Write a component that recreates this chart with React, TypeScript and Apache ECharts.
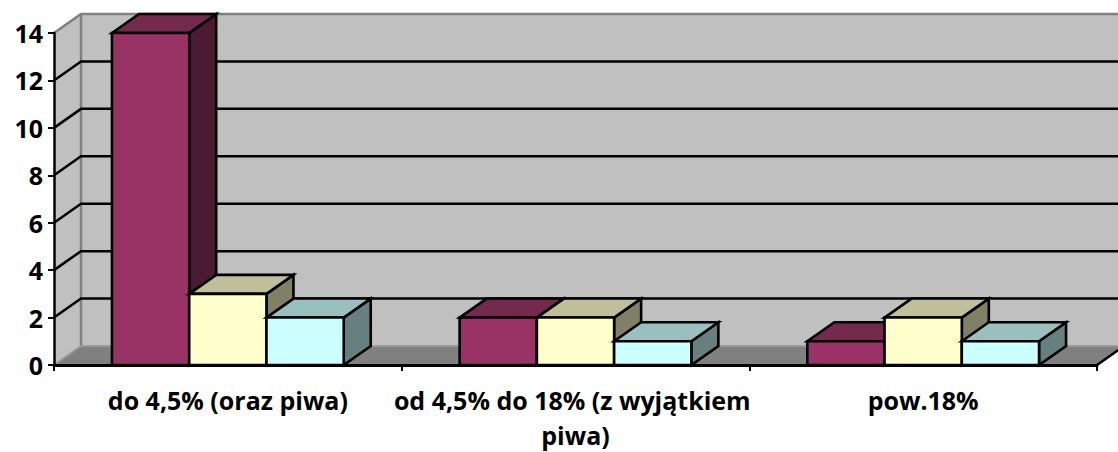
import React, { useEffect, useRef } from "react";
import * as echarts from "echarts";

const categories = ["do 4,5% (oraz piwa)", "od 4,5% do 18% (z wyjątkiem piwa)", "pow.18%"];
const plumValues = [14, 2, 1];
const creamValues = [3, 2, 2];
const aquaValues = [2, 1, 1];
const yTicks = [2, 4, 6, 8, 10, 12];

const plum = { front: "#993366", top: "#732A4D", side: "#4D1A33" };
const cream = { front: "#FFFFCC", top: "#BFBF99", side: "#808066" };
const aqua = { front: "#CCFFFF", top: "#99BFBF", side: "#668080" };

const DX = 27;
const DY = 19;
const BLACK = "#000000";
const BAR_SHARE = 0.2222;

const barRenderer = (slot: number, colors: { front: string; top: string; side: string }) =>
  (params: any, api: any) => {
    const cat = api.value(0);
    const val = api.value(1);
    const [cx, yTop] = api.coord([cat, val]);
    const [, yBase] = api.coord([cat, 0]);
    const band = api.size([1, 0])[0];
    const w = band * BAR_SHARE;
    const x0 = cx - 1.5 * w + slot * w;
    const x1 = x0 + w;
    const style = (fill: string) => ({ fill, stroke: BLACK, lineWidth: 2.6, lineJoin: "miter" });
    return {
      type: "group",
      children: [
        {
          type: "polygon",
          shape: { points: [[x1, yTop], [x1 + DX, yTop - DY], [x1 + DX, yBase - DY], [x1, yBase]] },
          style: style(colors.side),
        },
        {
          type: "polygon",
          shape: { points: [[x0, yTop], [x0 + DX, yTop - DY], [x1 + DX, yTop - DY], [x1, yTop]] },
          style: style(colors.top),
        },
        {
          type: "rect",
          shape: { x: x0, y: yTop, width: w, height: yBase - yTop },
          style: style(colors.front),
        },
      ],
    };
  };

const wallRenderer = (params: any, api: any) => {
  const cs = params.coordSys;
  const l = cs.x;
  const r = cs.x + cs.width;
  const top = cs.y;
  const bot = cs.y + cs.height;
  const rr = r + DX;
  return {
    type: "group",
    children: [
      {
        type: "polygon",
        shape: { points: [[l + DX, top - DY], [rr, top - DY], [rr, bot - DY], [l + DX, bot - DY]] },
        style: { fill: "#C0C0C0", stroke: "none" },
      },
      {
        type: "polygon",
        shape: { points: [[l, top], [l + DX, top - DY], [l + DX, bot - DY], [l, bot]] },
        style: { fill: "#C0C0C0", stroke: "none" },
      },
      {
        type: "polygon",
        shape: { points: [[l, bot], [l + DX, bot - DY], [rr, bot - DY], [r, bot]] },
        style: { fill: "#808080", stroke: "none" },
      },
      {
        type: "polyline",
        shape: { points: [[l, top], [l + DX, top - DY], [rr, top - DY]] },
        style: { fill: "none", stroke: "#808080", lineWidth: 2.5 },
      },
      {
        type: "line",
        shape: { x1: l + DX, y1: top - DY, x2: l + DX, y2: bot - DY },
        style: { stroke: "#808080", lineWidth: 2.5 },
      },
      {
        type: "polyline",
        shape: { points: [[l, bot], [l + DX, bot - DY], [rr, bot - DY]] },
        style: { fill: "none", stroke: "#999999", lineWidth: 2 },
      },
      {
        type: "line",
        shape: { x1: r, y1: bot, x2: rr, y2: bot - DY },
        style: { stroke: BLACK, lineWidth: 2.5 },
      },
    ],
  };
};

const gridRenderer = (params: any, api: any) => {
  const cs = params.coordSys;
  const y = api.coord([0, api.value(1)])[1];
  return {
    type: "polyline",
    shape: { points: [[cs.x, y], [cs.x + DX, y - DY], [cs.x + cs.width + DX, y - DY]] },
    style: { fill: "none", stroke: BLACK, lineWidth: 2.5 },
  };
};

export default function App() {
  const ref = useRef<HTMLDivElement>(null);
  useEffect(() => {
    document.body.style.margin = "0";
    const chart = echarts.init(ref.current!, undefined, { renderer: "svg" });
    const toData = (vals: number[]) => vals.map((v, i) => [i, v]);
    const label = { fontFamily: "Open Sans", fontWeight: 700 as const, color: BLACK };
    chart.setOption({
      animation: false,
      backgroundColor: "#FFFFFF",
      grid: { left: 54, right: 21, top: 33, bottom: 87, outerBoundsMode: "none" },
      xAxis: {
        type: "category",
        data: categories,
        z: 5,
        axisLine: { lineStyle: { color: BLACK, width: 3 } },
        axisTick: { show: true, length: 6, lineStyle: { color: BLACK, width: 2 } },
        axisLabel: {
          ...label,
          interval: 0,
          fontSize: 25,
          lineHeight: 35,
          margin: 17,
          width: 400,
          overflow: "break",
          align: "center",
        },
        splitLine: { show: false },
      },
      yAxis: {
        type: "value",
        min: 0,
        max: 14,
        interval: 2,
        z: 5,
        axisLine: { show: true, lineStyle: { color: BLACK, width: 2.5 } },
        axisTick: { show: true, length: 6, lineStyle: { color: BLACK, width: 2 } },
        axisLabel: { ...label, fontSize: 25, margin: 11 },
        splitLine: { show: false },
      },
      series: [
        { type: "custom", renderItem: wallRenderer, data: [[0, 0]], encode: { x: 0, y: 1 }, silent: true },
        {
          type: "custom",
          renderItem: gridRenderer,
          data: yTicks.map((t) => [0, t]),
          encode: { x: 0, y: 1 },
          silent: true,
        },
        { type: "custom", renderItem: barRenderer(0, plum), data: toData(plumValues), encode: { x: 0, y: 1 } },
        { type: "custom", renderItem: barRenderer(1, cream), data: toData(creamValues), encode: { x: 0, y: 1 } },
        { type: "custom", renderItem: barRenderer(2, aqua), data: toData(aquaValues), encode: { x: 0, y: 1 } },
      ],
    });
    return () => chart.dispose();
  }, []);
  return <div ref={ref} style={{ width: 1118, height: 452 }} />;
}
